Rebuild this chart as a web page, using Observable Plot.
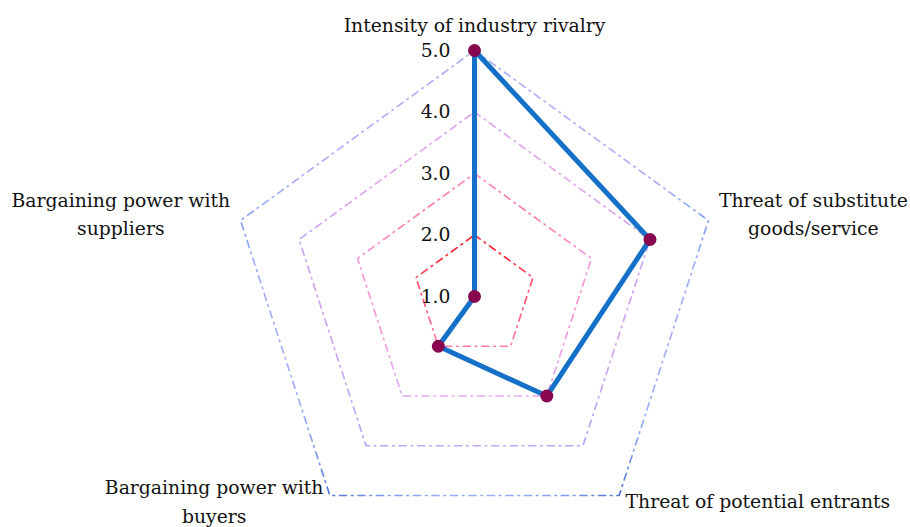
<!DOCTYPE html>
<html>
<head>
<meta charset="utf-8">
<script src="https://cdn.jsdelivr.net/npm/d3@7"></script>
<script src="https://cdn.jsdelivr.net/npm/@observablehq/plot@0.6"></script>
<style>
  html, body { margin: 0; padding: 0; background: #fff; }
  #chart svg { display: block; }
</style>
</head>
<body>
<div id="chart"></div>
<script>
// ---- data ----
const axes = [
  "Intensity of industry rivalry",
  "Threat of substitute\ngoods/service",
  "Threat of potential entrants",
  "Bargaining power with\nbuyers",
  "Bargaining power with\nsuppliers"
];
const values = [5, 4, 3, 2, 1];
const ticks = [1, 2, 3, 4, 5];
const tickLabels = ["1.0", "2.0", "3.0", "4.0", "5.0"];

// ---- layout ----
const W = 910, H = 527;
const CX = 474, CY = 296, UNIT = 61.5;   // pixel centre and pixels per unit
const MIN = 1, MAX = 5;
const FONT = "DejaVu Serif";
const FS = 18.8;
const LABEL_PAD = 11;

const n = axes.length;
const ang = i => (i * 2 * Math.PI) / n;
const toXY = (v, i) => ({ x: (v - MIN) * Math.sin(ang(i)), y: (v - MIN) * Math.cos(ang(i)) });

const pts = values.map((v, i) => ({ name: axes[i], v, ...toXY(v, i) }));
const rings = ticks.filter(t => t > MIN).flatMap(t => axes.map((a, i) => ({ t, ...toXY(t, i) })));
const tickData = ticks.map((t, k) => ({ label: tickLabels[k], x: 0, y: t - MIN }));

// measure label widths for centred multi-line blocks
const ctx = document.createElement("canvas").getContext("2d");
ctx.font = `${FS}px "${FONT}"`;
const labelData = axes.map((a, i) => {
  const th = ang(i);
  const rr = (MAX - MIN) + LABEL_PAD / UNIT;
  let x = rr * Math.sin(th), y = rr * Math.cos(th);
  const w = Math.max(...a.split("\n").map(s => ctx.measureText(s).width)) / UNIT;
  const s = Math.sin(th);
  if (s > 0.1) x += w / 2; else if (s < -0.1) x -= w / 2;
  return { label: a, x, y, top: Math.abs(s) < 0.1 && Math.cos(th) > 0 };
});

const chart = Plot.plot({
  width: W,
  height: H,
  margin: 0,
  style: { fontFamily: FONT, background: "#fff" },
  x: { domain: [-CX / UNIT, (W - CX) / UNIT], axis: null },
  y: { domain: [-(H - CY) / UNIT, CY / UNIT], axis: null },
  marks: [
    Plot.line(rings, {
      x: "x", y: "y", z: "t", curve: "linear-closed",
      stroke: "url(#ringGrad)", strokeWidth: 1.7, strokeDasharray: "7,5,1.5,5"
    }),
    Plot.line(pts, {
      x: "x", y: "y", curve: "linear-closed",
      stroke: "#1570c8", strokeWidth: 5, strokeLinejoin: "miter"
    }),
    Plot.dot(pts, { x: "x", y: "y", r: 6.5, fill: "#87064f", stroke: "none" }),
    Plot.text(tickData, {
      x: "x", y: "y", text: "label", dx: -24, textAnchor: "end",
      fontSize: FS, fill: "#111"
    }),
    Plot.text(labelData.filter(d => d.top), {
      x: "x", y: "y", text: "label", textAnchor: "middle", lineAnchor: "bottom",
      dy: -8, fontSize: FS, fill: "#111"
    }),
    Plot.text(labelData.filter(d => !d.top), {
      x: "x", y: "y", text: "label", textAnchor: "middle", lineAnchor: "middle",
      dy: -5, lineHeight: 1.5, fontSize: FS, fill: "#111"
    })
  ]
});

// radial gradient for the grid rings
const sx = chart.scale("x"), sy = chart.scale("y");
const gcx = sx.apply(0), gcy = sy.apply(0) - 26;
const GR = 270;
const stops = [
  [0, "#ff0000"], [35, "#ff2a3a"], [60, "#ff5a78"], [80, "#ff80a8"], [100, "#ff90c8"],
  [126, "#eaa8f0"], [160, "#d2a4f2"], [180, "#c0aaf8"], [220, "#9cb0fa"],
  [240, "#82a0f2"], [270, "#4a70d0"]
];
const defs = d3.select(chart).insert("defs", ":first-child");
const g = defs.append("radialGradient")
  .attr("id", "ringGrad").attr("gradientUnits", "userSpaceOnUse")
  .attr("cx", gcx).attr("cy", gcy).attr("r", GR);
stops.forEach(([o, c]) => g.append("stop").attr("offset", o / GR).attr("stop-color", c));

document.getElementById("chart").appendChild(chart);
</script>
</body>
</html>
